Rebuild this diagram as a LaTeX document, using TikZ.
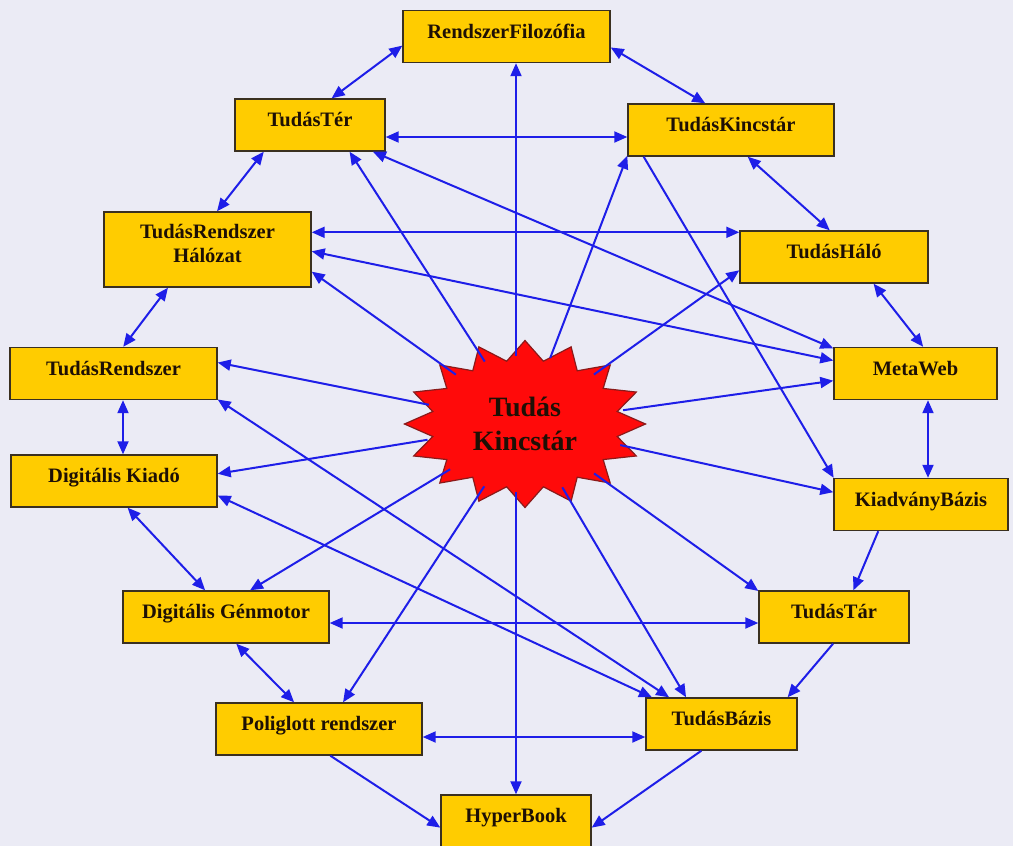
\documentclass[tikz,border=0pt]{standalone}
\usepackage{fontspec}
\setmainfont{Liberation Serif}
\usetikzlibrary{arrows.meta,shapes.geometric}
\definecolor{bgcol}{HTML}{EBEBF5}
\definecolor{boxfill}{HTML}{FFCC00}
\definecolor{boxline}{HTML}{3A3020}
\definecolor{linkcol}{HTML}{1E1EE8}
\definecolor{starfill}{HTML}{FF0A0A}
\definecolor{starline}{HTML}{8A1A1A}
\definecolor{inkcol}{HTML}{1E1005}
\begin{document}
\begin{tikzpicture}[x=1pt,y=-1pt,
  >={Triangle[length=13pt,width=11pt]},
  box/.style={draw=boxline, line width=1.4pt, fill=boxfill, text=inkcol,
    font=\fontsize{20.5}{24}\selectfont\bfseries, inner sep=0pt,
    minimum height=52pt, text height=15.5pt, text depth=12pt},
  link/.style={draw=linkcol, line width=2pt, ->},
  both/.style={draw=linkcol, line width=2pt, <->},
]
% canvas
\fill[bgcol] (0,0) rectangle (1013,846);
\useasboundingbox (0,0) rectangle (1013,846);

% central burst
\filldraw[fill=starfill, draw=starline, line width=1.2pt]
  plot[samples at={0,...,31}, variable=\k]
  ({525+ifthenelse(mod(\k,2)==0,120.5,94)*cos(90+11.25*\k)},
   {424-ifthenelse(mod(\k,2)==0,83.5,64)*sin(90+11.25*\k)}) -- cycle;
\node[ellipse, minimum width=200pt, minimum height=136pt, inner sep=0pt,
      align=center, text=inkcol, font=\fontsize{28}{34}\selectfont\bfseries]
  (tk) at (525,424) {Tudás\\Kincstár};

% boxes
\node[box, minimum width=207pt] (rf) at (506.5,36.5) {RendszerFilozófia};
\node[box, minimum width=150pt] (tt) at (310,125) {TudásTér};
\node[box, minimum width=206pt] (tkb) at (731,130) {TudásKincstár};
\node[box, minimum width=207pt, minimum height=75pt, align=center,
      text height=25pt, text depth=0pt] (trh) at (207.5,249.5) {TudásRendszer\\Hálózat};
\node[box, minimum width=188pt] (th) at (834,257) {TudásHáló};
\node[box, minimum width=207pt] (tr) at (113.5,373.5) {TudásRendszer};
\node[box, minimum width=163pt] (mw) at (915.5,373.5) {MetaWeb};
\node[box, minimum width=206pt] (dk) at (114,481) {Digitális Kiadó};
\node[box, minimum width=174pt] (kb) at (921,504.5) {KiadványBázis};
\node[box, minimum width=206pt] (dg) at (226,617) {Digitális Génmotor};
\node[box, minimum width=150pt] (ttar) at (834,617) {TudásTár};
\node[box, minimum width=206pt] (pr) at (319,729) {Poliglott rendszer};
\node[box, minimum width=151pt] (tb) at (721.5,724) {TudásBázis};
\node[box, minimum width=150pt] (hb) at (516,821) {HyperBook};

% ring links
\draw[both] (rf.185) -- (tt.51);
\draw[both] (rf.-6) -- (tkb.134);
\draw[both] ([yshift=-12pt]tt.east) -- ([yshift=-12pt]tt.east -| tkb.west);
\draw[both] (tt.210) -- (trh.76);
\draw[both] (tkb.-58) -- (th.99);
\draw[both] ([yshift=-2pt]th.north west -| trh.east) -- ([yshift=-2pt]th.north west);
\draw[both] (trh.224) -- (tr.70);
\draw[both] (th.-34) -- (mw.74);
\draw[both] ([xshift=9pt]dk.north) -- ([xshift=9pt]dk.north |- tr.south);
\draw[both] ([xshift=12.5pt]mw.south) -- ([xshift=12.5pt]mw.south |- kb.north);
\draw[both] (dk.-63) -- (dg.128);
\draw[link] (kb.212) -- (ttar.54);
\draw[both] ([yshift=-6pt]dg.east) -- ([yshift=-6pt]dg.east -| ttar.west);
\draw[both] (dg.-69) -- (pr.133);
\draw[link] (ttar.-92) -- (tb.22);
\draw[both] ([yshift=-8pt]pr.east) -- ([yshift=-8pt]pr.east -| tb.west);
\draw[link] (pr.-67) -- (hb.185);
\draw[link] (tb.233) -- (hb.-5);

% long cross links
\draw[both] (tt.-23) -- (mw.163);
\draw[both] (trh.-1) -- (mw.171);
\draw[link] (tkb.197) -- (kb.163);
\draw[both] (tr.-14) -- (tb.153);
\draw[both] (dk.-8) -- (tb.159);

% links out of the burst
\draw[link] (tk.north -| hb) -- (rf.south -| hb);
\draw[link] (tk) -- (tt.-34);
\draw[link] (tk) -- (tkb.194);
\draw[link] (tk) -- (trh.-12);
\draw[link] (tk) -- (th.188);
\draw[link] (tk) -- (tr.6);
\draw[link] (tk) -- (mw.185);
\draw[link] (tk) -- (dk.4);
\draw[link] (tk) -- (kb.172);
\draw[link] (tk) -- (dg.48);
\draw[link] (tk) -- (ttar.161);
\draw[link] (tk) -- (pr.48);
\draw[link] (tk) -- (tb.143);
\draw[link] (tk.south -| hb) -- (hb.north);
\end{tikzpicture}
\end{document}
